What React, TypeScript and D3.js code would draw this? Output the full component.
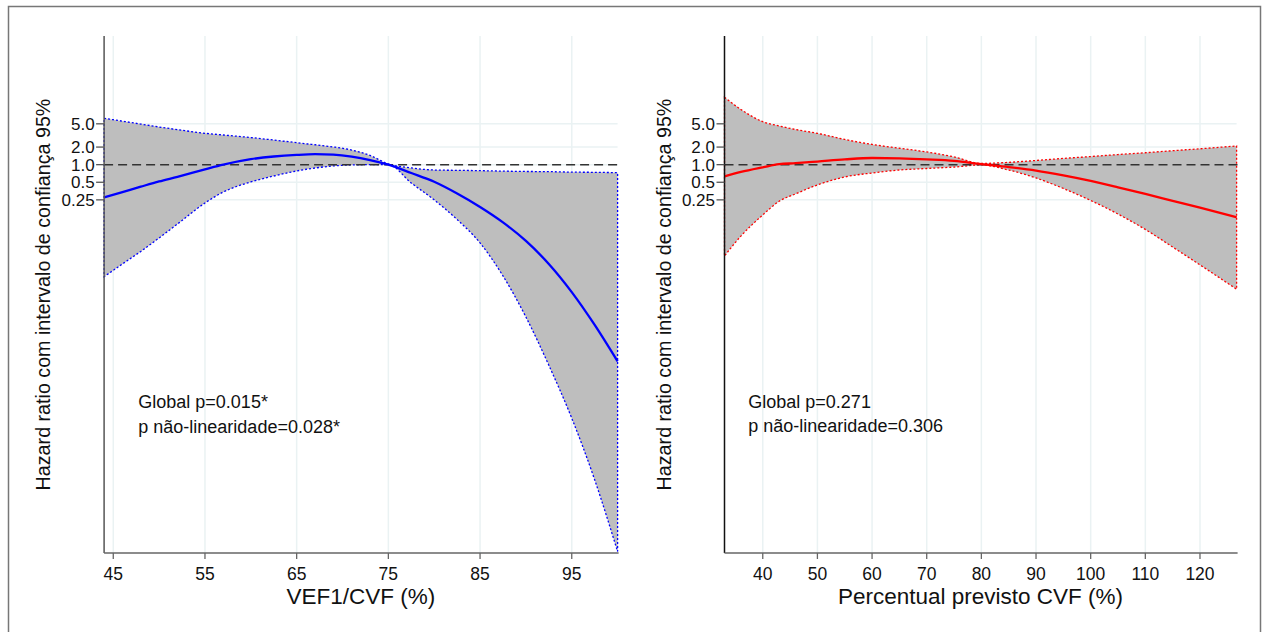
import React, { useRef, useEffect } from 'react';
import * as d3 from 'd3';

// VEF1/CVF panel (left) - hazard ratio and 95% CI
const vefX = [44, 46, 48, 50, 52, 55, 57, 60, 62.5, 65, 67, 69, 71, 73, 75, 77.5, 80, 82.5, 85, 87.5, 90, 92.5, 95, 97.5, 100];
const vefHR = [0.276, 0.34, 0.42, 0.516, 0.62, 0.83, 1.0, 1.24, 1.38, 1.47, 1.51, 1.48, 1.37, 1.2, 1.0, 0.72, 0.51, 0.321, 0.189, 0.103, 0.0495, 0.02, 0.0066, 0.00181, 0.00043];
const vefHi = [6.22, 5.55, 4.95, 4.41, 3.98, 3.44, 3.22, 2.91, 2.64, 2.38, 2.19, 2.01, 1.78, 1.44, 1.03, 0.88, 0.81, 0.8, 0.79, 0.775, 0.765, 0.76, 0.745, 0.74, 0.73];
const vefLo = [0.0121, 0.02, 0.0328, 0.0558, 0.0967, 0.221, 0.341, 0.506, 0.64, 0.78, 0.877, 0.95, 0.99, 1.0, 1.0, 0.486, 0.25, 0.115, 0.0458, 0.0125, 0.00248, 0.00037, 4.6e-5, 4.06e-6, 2.4e-7];

// Percentual previsto CVF panel (right)
const cvfX = [33, 36, 40, 43, 46, 50, 55, 60, 65, 70, 75, 80, 85, 90, 95, 100, 105, 110, 115, 120, 126.7];
const cvfHR = [0.63, 0.75, 0.9, 1.02, 1.06, 1.13, 1.23, 1.3, 1.28, 1.23, 1.16, 1.02, 0.91, 0.79, 0.654, 0.526, 0.41, 0.316, 0.241, 0.184, 0.126];
const cvfHi = [14.2, 8.8, 5.44, 4.6, 4.0, 3.44, 2.7, 2.22, 1.91, 1.65, 1.36, 1.05, 1.095, 1.18, 1.28, 1.376, 1.49, 1.6, 1.735, 1.87, 2.09];
const cvfLo = [0.0274, 0.06, 0.138, 0.237, 0.316, 0.45, 0.616, 0.721, 0.81, 0.86, 0.91, 0.99, 0.81, 0.592, 0.392, 0.244, 0.143, 0.078, 0.039, 0.0193, 0.0074];

const yTicks = [0.25, 0.5, 1, 2, 5];
const yTickLabels = ['0.25', '0.5', '1.0', '2.0', '5.0'];
const vefTicks = [45, 55, 65, 75, 85, 95];
const cvfTicks = [40, 50, 60, 70, 80, 90, 100, 110, 120];

const yTitle = 'Hazard ratio com intervalo de confiança 95%';
const vefNotes = ['Global p=0.015*', 'p não-linearidade=0.028*'];
const cvfNotes = ['Global p=0.271', 'p não-linearidade=0.306'];

const W = 1266;
const H = 632;
const FONT = '"Liberation Sans", Arial, Helvetica, sans-serif';

const App = () => {
  const svgRef = useRef<SVGSVGElement>(null);

  useEffect(() => {
    const svg = d3.select(svgRef.current);
    svg.selectAll('*').remove();

    svg.append('rect')
      .attr('x', 8.5).attr('y', 6.5)
      .attr('width', 1252).attr('height', 660)
      .attr('fill', 'white')
      .attr('stroke', '#777').attr('stroke-width', 1.5);

    const top = 36;
    const bottom = 553;
    const yScale = d3.scaleLog().base(2).domain([2.27e-7, 159]).range([bottom, top]);

    const panels = [
      {
        range: [104.1, 617.6], domain: [44, 100], ticks: vefTicks, title: 'VEF1/CVF (%)',
        xs: vefX, hr: vefHR, lo: vefLo, hi: vefHi, color: '#0000ff', notes: vefNotes,
        noteX: 138.3, noteY: [408.3, 432.7], yAxisColor: '#555',
      },
      {
        range: [724.5, 1236.6], domain: [33, 126.7], ticks: cvfTicks, title: 'Percentual previsto CVF (%)',
        xs: cvfX, hr: cvfHR, lo: cvfLo, hi: cvfHi, color: '#ff0000', notes: cvfNotes,
        noteX: 748.3, noteY: [407.5, 431.7], yAxisColor: '#111',
      },
    ];

    panels.forEach(p => {
      const xScale = d3.scaleLinear().domain(p.domain).range(p.range);
      const g = svg.append('g');
      const [x0, x1] = p.range;

      // grid
      g.selectAll('.vgrid').data(p.ticks).enter().append('line')
        .attr('x1', d => xScale(d)).attr('x2', d => xScale(d))
        .attr('y1', top).attr('y2', bottom)
        .attr('stroke', '#eaf2f3').attr('stroke-width', 1.5);
      g.selectAll('.hgrid').data(yTicks).enter().append('line')
        .attr('x1', x0).attr('x2', x1)
        .attr('y1', d => yScale(d)).attr('y2', d => yScale(d))
        .attr('stroke', '#eaf2f3').attr('stroke-width', 1.5);

      const rows = p.xs.map((x, i) => ({ x, hr: p.hr[i], lo: p.lo[i], hi: p.hi[i] }));

      const area = d3.area<any>()
        .x(d => xScale(d.x))
        .y0(d => yScale(d.lo))
        .y1(d => yScale(d.hi))
        .curve(d3.curveMonotoneX);

      g.append('path')
        .attr('d', area(rows))
        .attr('fill', '#bebebe')
        .attr('stroke', p.color)
        .attr('stroke-width', 1.3)
        .attr('stroke-dasharray', '2,2');

      // reference line at HR = 1
      g.append('line')
        .attr('x1', x0).attr('x2', x1 + 3)
        .attr('y1', yScale(1)).attr('y2', yScale(1))
        .attr('stroke', '#333').attr('stroke-width', 1.5)
        .attr('stroke-dasharray', '9,5');

      const line = d3.line<any>()
        .x(d => xScale(d.x))
        .y(d => yScale(d.hr))
        .curve(d3.curveMonotoneX);

      g.append('path')
        .attr('d', line(rows))
        .attr('fill', 'none')
        .attr('stroke', p.color)
        .attr('stroke-width', 2.3);

      // axes
      g.append('line')
        .attr('x1', x0).attr('x2', x0).attr('y1', top).attr('y2', bottom)
        .attr('stroke', p.yAxisColor).attr('stroke-width', 1.5);
      g.append('line')
        .attr('x1', x0).attr('x2', x1 + 1).attr('y1', bottom).attr('y2', bottom)
        .attr('stroke', '#666').attr('stroke-width', 1.5);

      g.selectAll('.xtick').data(p.ticks).enter().append('line')
        .attr('x1', d => xScale(d)).attr('x2', d => xScale(d))
        .attr('y1', bottom).attr('y2', bottom + 6)
        .attr('stroke', '#666').attr('stroke-width', 1.3);
      g.selectAll('.xlabel').data(p.ticks).enter().append('text')
        .attr('x', d => xScale(d)).attr('y', 579.5)
        .attr('text-anchor', 'middle')
        .style('font-family', FONT).style('font-size', '17.5px').style('fill', '#111')
        .text(d => d);

      g.selectAll('.ytick').data(yTicks).enter().append('line')
        .attr('x1', x0 - 8).attr('x2', x0)
        .attr('y1', d => yScale(d)).attr('y2', d => yScale(d))
        .attr('stroke', '#555').attr('stroke-width', 1.3);
      g.selectAll('.ylabel').data(yTicks).enter().append('text')
        .attr('x', x0 - 9.5).attr('y', d => yScale(d))
        .attr('dy', '0.36em')
        .attr('text-anchor', 'end')
        .style('font-family', FONT).style('font-size', '17px').style('fill', '#111')
        .text((d, i) => yTickLabels[i]);

      g.append('text')
        .attr('x', (x0 + x1) / 2).attr('y', 604)
        .attr('text-anchor', 'middle')
        .style('font-family', FONT).style('font-size', '22.5px').style('fill', '#111')
        .text(p.title);

      g.append('text')
        .attr('transform', `translate(${x0 - 54},${(top + bottom) / 2}) rotate(-90)`)
        .attr('text-anchor', 'middle')
        .style('font-family', FONT).style('font-size', '19.7px').style('fill', '#111')
        .text(yTitle);

      p.notes.forEach((t, i) => {
        g.append('text')
          .attr('x', p.noteX).attr('y', p.noteY[i])
          .style('font-family', FONT).style('font-size', '18px').style('fill', '#111')
          .text(t);
      });
    });
  }, []);

  return (
    <svg
      ref={svgRef}
      width={W}
      height={H}
      viewBox={`0 0 ${W} ${H}`}
      style={{ position: 'absolute', left: 0, top: 0, display: 'block', overflow: 'hidden', background: 'white' }}
    ></svg>
  );
};

export default App;
